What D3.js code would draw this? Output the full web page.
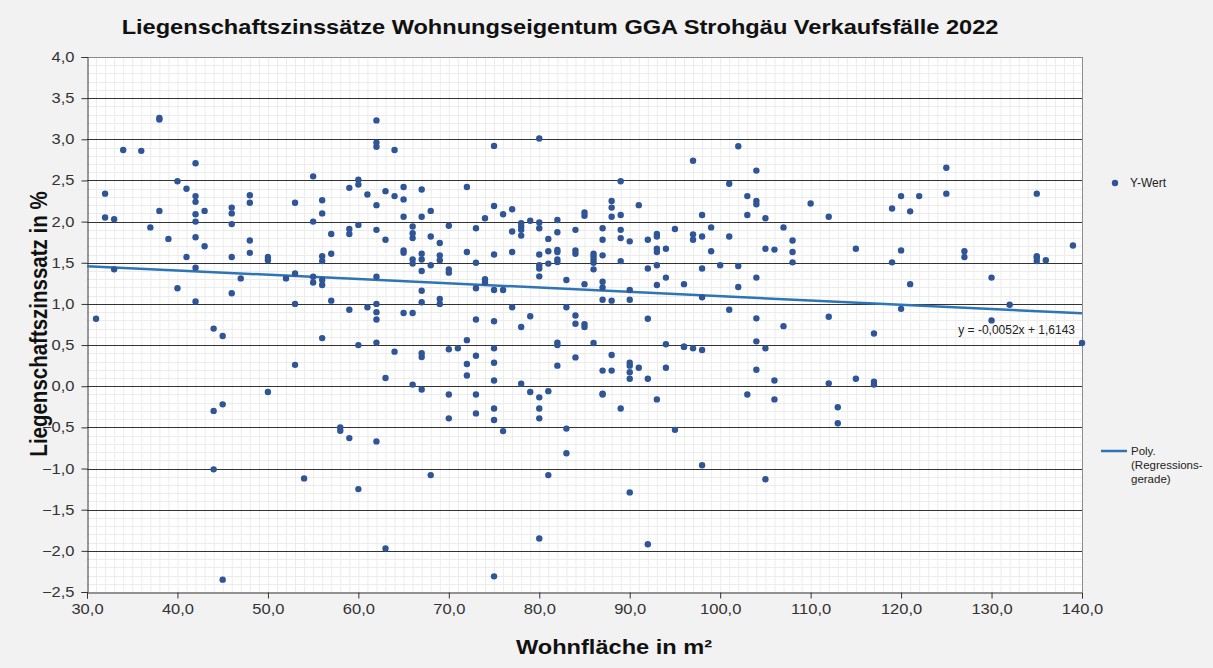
<!DOCTYPE html>
<html><head><meta charset="utf-8">
<script src="https://cdn.jsdelivr.net/npm/d3@7"></script>
<style>
html,body{margin:0;padding:0;background:#f2f2f2;}
svg{display:block;font-family:"Liberation Sans",Arial,sans-serif;}
</style></head>
<body><svg id="c" width="1213" height="668"></svg>
<script>
const wohnflaeche = [
38,38,34,36,42,40,41,32,42,42,38,43,42,46,46,48,48,32,33,42,46,37,39,42,43,48,48,41,46,50,50,33,42,47,52,40,46,42,31,44,45,50,45,44,44,45,
62,62,62,64,55,60,60,59,61,63,64,65,65,67,53,56,56,62,68,72,74,55,65,67,57,59,59,60,62,63,66,66,66,68,69,70,73,56,56,57,65,65,66,66,67,67,68,69,69,70,70,72,73,67,53,55,55,56,56,62,74,74,73,67,53,57,59,61,62,62,62,65,66,67,69,69,73,56,60,62,64,67,67,70,71,72,73,53,72,72,63,66,67,70,73,73,70,58,58,59,62,54,68,60,63,
80,75,89,75,76,77,78,78,78,78,79,80,80,77,82,82,81,84,85,85,88,88,88,89,91,87,87,89,89,90,92,93,93,95,93,93,94,75,77,80,80,80,80,81,81,82,82,82,82,84,84,86,86,86,86,86,87,89,92,93,94,83,85,87,87,90,93,96,75,76,87,88,90,77,83,79,84,84,85,85,75,78,92,75,75,75,78,79,80,81,82,82,82,84,86,87,88,88,87,87,89,90,90,90,90,91,92,93,94,94,95,96,75,75,76,80,80,83,83,81,90,80,92,75,
97,102,104,101,103,104,104,110,98,103,105,112,99,107,97,97,98,101,108,99,105,106,108,115,108,100,102,98,104,102,98,101,104,107,112,117,96,97,98,104,105,104,106,112,115,117,117,103,106,113,113,98,105,
125,125,120,122,135,119,121,139,120,127,127,119,135,135,135,136,121,130,120,132,130,140
];
const zinssatz = [
3.26,3.24,2.87,2.86,2.71,2.49,2.40,2.34,2.31,2.24,2.13,2.13,2.09,2.17,2.10,2.32,2.23,2.05,2.03,2.00,1.97,1.93,1.79,1.81,1.70,1.77,1.62,1.57,1.57,1.57,1.53,1.42,1.44,1.31,1.31,1.19,1.13,1.03,0.82,0.70,0.61,-0.07,-0.22,-0.30,-1.01,-2.35,
3.23,2.96,2.91,2.87,2.55,2.51,2.45,2.41,2.33,2.37,2.31,2.42,2.27,2.39,2.23,2.26,2.10,2.20,2.13,2.42,2.04,2.00,2.06,2.06,1.85,1.91,1.85,1.96,1.90,1.78,1.94,1.86,1.80,1.82,1.74,1.95,1.92,1.58,1.52,1.61,1.65,1.62,1.54,1.49,1.61,1.54,1.47,1.59,1.53,1.42,1.38,1.63,1.50,1.40,1.37,1.33,1.26,1.29,1.23,1.33,1.30,1.26,1.19,1.16,1.00,1.04,0.93,0.96,1.00,0.90,0.81,0.89,0.89,1.02,1.06,1.00,0.81,0.585,0.50,0.53,0.42,0.40,0.355,0.45,0.46,0.56,0.37,0.26,0.27,0.13,0.10,0.02,-0.04,-0.10,-0.10,-0.33,-0.39,-0.50,-0.54,-0.63,-0.67,-1.12,-1.08,-1.25,-1.97,
3.01,2.92,2.49,2.19,2.09,2.15,1.98,1.94,1.90,1.83,2.01,1.99,1.92,1.88,2.02,1.87,1.79,1.90,2.11,2.07,2.25,2.17,2.06,2.08,2.20,1.92,1.78,1.90,1.80,1.76,1.78,1.85,1.82,1.91,1.67,1.63,1.67,1.60,1.63,1.60,1.47,1.43,1.335,1.64,1.49,1.655,1.63,1.54,1.51,1.65,1.61,1.61,1.58,1.54,1.50,1.42,1.59,1.52,1.43,1.47,1.32,1.29,1.24,1.27,1.20,1.17,1.23,1.24,1.17,1.17,1.05,1.04,1.05,0.96,0.96,0.85,0.86,0.76,0.755,0.72,0.79,0.72,0.82,0.46,0.285,0.07,0.03,-0.07,-0.135,-0.06,0.53,0.50,0.25,0.35,0.525,0.19,0.38,0.19,-0.09,-0.10,-0.27,0.285,0.25,0.17,0.09,0.225,0.09,-0.16,0.51,0.225,-0.53,0.48,-0.27,-0.41,-0.545,-0.27,-0.39,-0.515,-0.815,-1.08,-1.29,-1.85,-1.92,-2.31,
2.74,2.915,2.62,2.46,2.31,2.25,2.21,2.22,2.08,2.08,2.04,2.06,1.93,1.93,1.845,1.78,1.82,1.82,1.77,1.64,1.67,1.66,1.63,1.67,1.505,1.47,1.46,1.43,1.32,1.205,1.08,0.93,0.825,0.73,0.845,0.64,0.48,0.46,0.44,0.545,0.46,0.20,0.07,0.035,0.09,0.055,0.02,-0.10,-0.16,-0.255,-0.45,-0.96,-1.13,
2.655,2.34,2.31,2.31,2.34,2.16,2.125,1.71,1.65,1.64,1.57,1.505,1.58,1.56,1.52,1.53,1.24,1.32,0.94,0.99,0.80,0.525
];
const trendSlope = -0.0052, trendIntercept = 1.6143;
const trendLabel = "y = -0,0052x + 1,6143";
const xTicks = [30,40,50,60,70,80,90,100,110,120,130,140];
const yTicks = [-2.5,-2,-1.5,-1,-0.5,0,0.5,1,1.5,2,2.5,3,3.5,4];
const titleText = "Liegenschaftszinssätze Wohnungseigentum GGA Strohgäu Verkaufsfälle 2022";
const xLabel = "Wohnfläche in m²";
const yLabel = "Liegenschaftszinssatz in %";
const legendPoint = "Y-Wert";
const legendLine = ["Poly.", "(Regressions-", "gerade)"];

const svg = d3.select("#c");
const L = 87, R = 1082, T = 57, B = 592;
const SX = 1.18; // horizontal text stretch seen in the reference
const x = d3.scaleLinear().domain([30,140]).range([L,R]);
const y = d3.scaleLinear().domain([-2.5,4]).range([B,T]);
const fmt = d3.format(".1f");
const comma = v => fmt(v).replace(".", ",");

svg.append("rect").attr("x",L).attr("y",T).attr("width",R-L).attr("height",B-T).attr("fill","#fff");

// minor grid
const g = svg.append("g");
g.selectAll("line.vx").data(d3.range(31,140,1)).join("line")
  .attr("x1",d=>x(d)+0.5).attr("x2",d=>x(d)+0.5).attr("y1",T).attr("y2",B)
  .attr("stroke","#ececec").attr("stroke-width",1);
g.selectAll("line.hy").data(d3.range(-24,40,1).map(d=>d/10).filter(v=>Math.abs(v*2-Math.round(v*2))>1e-6)).join("line")
  .attr("y1",d=>Math.round(y(d))+0.5).attr("y2",d=>Math.round(y(d))+0.5).attr("x1",L).attr("x2",R)
  .attr("stroke","#ececec").attr("stroke-width",1);
// major horizontals
g.append("g").selectAll("line").data(yTicks.filter(v=>v>-2.5 && v<4)).join("line")
  .attr("y1",d=>Math.round(y(d))+0.5).attr("y2",d=>Math.round(y(d))+0.5).attr("x1",L).attr("x2",R)
  .attr("stroke","#333").attr("stroke-width",1);
// border top/right
svg.append("line").attr("x1",L).attr("x2",R).attr("y1",T+0.5).attr("y2",T+0.5).attr("stroke","#8c8c8c");
svg.append("line").attr("x1",R+0.5).attr("x2",R+0.5).attr("y1",T).attr("y2",B).attr("stroke","#8c8c8c");

// axes
const yAxis = d3.axisLeft(y).tickValues(yTicks).tickFormat(comma).tickSize(6).tickPadding(5);
const ya = svg.append("g").attr("transform",`translate(${L+0.5},0)`).call(yAxis);
const xAxis = d3.axisBottom(x).tickValues(xTicks).tickFormat(comma).tickSize(6).tickPadding(6);
const xa = svg.append("g").attr("transform",`translate(0,${B+0.5})`).call(xAxis);
[ya,xa].forEach(a=>{
  a.select(".domain").attr("stroke","#333");
  a.selectAll(".tick line").attr("stroke","#333");
  a.selectAll("text").attr("font-size",14).attr("fill","#333")
    .attr("font-family","'Liberation Sans',Arial,sans-serif")
    .attr("transform",`scale(${SX},1)`);
});

// trend line
svg.append("line")
  .attr("x1",x(30)).attr("y1",y(trendSlope*30+trendIntercept))
  .attr("x2",x(140)).attr("y2",y(trendSlope*140+trendIntercept))
  .attr("stroke","#2e75b6").attr("stroke-width",2.5);

// points
const pts = wohnflaeche.map((v,i)=>[v,zinssatz[i]]);
svg.append("g").selectAll("circle").data(pts).join("circle")
  .attr("cx",d=>x(d[0])).attr("cy",d=>y(d[1])).attr("r",3.2).attr("fill","#2f5597");

// trend label
svg.append("text").attr("x",1075).attr("y",334).attr("text-anchor","end")
  .attr("font-size",12).attr("fill","#222").text(trendLabel);

// title & labels
svg.append("text").attr("transform",`translate(560,34) scale(${SX},1)`).attr("text-anchor","middle")
  .attr("font-size",20).attr("font-weight","bold").attr("fill","#111").text(titleText);
svg.append("text").attr("transform",`translate(614,654) scale(${SX},1)`).attr("text-anchor","middle")
  .attr("font-size",20).attr("font-weight","bold").attr("fill","#111").text(xLabel);
svg.append("text").attr("transform",`translate(47,324) scale(${SX},1) rotate(-90)`).attr("text-anchor","middle")
  .attr("font-size",20.5).attr("font-weight","bold").attr("fill","#111").text(yLabel);

// legend
svg.append("circle").attr("cx",1115).attr("cy",183).attr("r",3.2).attr("fill","#2f5597");
svg.append("text").attr("x",1130).attr("y",187).attr("font-size",12).attr("fill","#222").text(legendPoint);
svg.append("line").attr("x1",1101).attr("x2",1127).attr("y1",451).attr("y2",451).attr("stroke","#2e75b6").attr("stroke-width",2.5);
svg.append("text").attr("font-size",11.5).attr("fill","#222").selectAll("tspan").data(legendLine).join("tspan")
  .attr("x",1131).attr("y",(d,i)=>455+i*14).text(d=>d);
</script></body></html>
